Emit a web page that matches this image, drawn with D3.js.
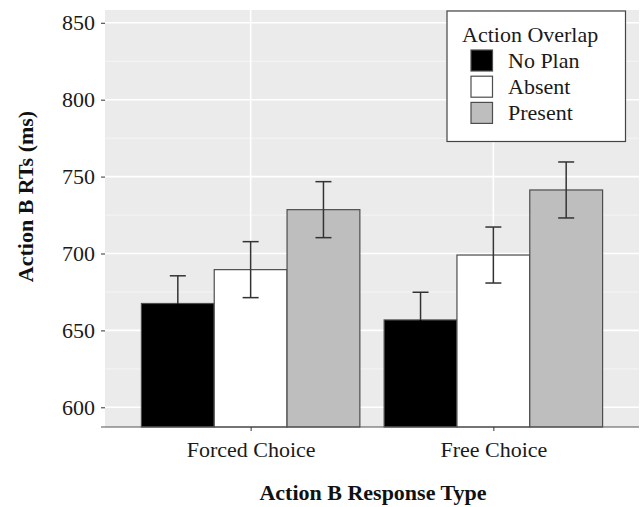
<!DOCTYPE html>
<html><head><meta charset="utf-8">
<script src="https://cdn.jsdelivr.net/npm/d3@7"></script>
<style>
html,body{margin:0;padding:0;background:#fff;}
text{font-family:"Liberation Serif","Times New Roman",serif;}
</style></head>
<body><svg id="chart" width="644" height="507"></svg>
<script>
const categories = ["Forced Choice", "Free Choice"];
const groups = ["No Plan", "Absent", "Present"];
const fills = ["#000000", "#ffffff", "#bebebe"];
const meansForced = [667.5, 689.5, 728.5];
const meansFree = [656.8, 699, 741.3];
const seForced = [18, 18.2, 18.2];
const seFree = [18, 18.2, 18.2];
const yTicks = [600, 650, 700, 750, 800, 850];
const yMinor = [625, 675, 725, 775, 825];

const data = [];
categories.forEach((c, ci) => {
  const m = ci === 0 ? meansForced : meansFree;
  const s = ci === 0 ? seForced : seFree;
  groups.forEach((g, gi) => data.push({cat: c, group: g, mean: m[gi], se: s[gi], fill: fills[gi]}));
});

const svg = d3.select("#chart");
const L = 105, R = 639, T = 10, B = 427;
const FONT = '"Liberation Serif","Times New Roman",serif';

const y = d3.scaleLinear().domain([587.2, 858.3]).range([B, T]);
// ggplot discrete: positions 1,2 with limits 0.4..2.6, dodge width 0.9
const xc = d3.scalePoint().domain(categories).range([L + (R-L)*0.6/2.2, R - (R-L)*0.6/2.2]);
const unit = (R - L) / 2.2;
const groupW = 0.9 * unit;
const xg = d3.scaleBand().domain(groups).range([-groupW/2, groupW/2]);

// panel
svg.append("rect").attr("x", L).attr("y", T).attr("width", R-L).attr("height", B-T).attr("fill", "#ebebeb");
svg.selectAll(".minor").data(yMinor).enter().append("line")
  .attr("x1", L).attr("x2", R).attr("y1", d => y(d)).attr("y2", d => y(d))
  .attr("stroke", "#f5f5f5").attr("stroke-width", 1);
svg.selectAll(".major").data(yTicks).enter().append("line")
  .attr("x1", L).attr("x2", R).attr("y1", d => y(d)).attr("y2", d => y(d))
  .attr("stroke", "#ffffff").attr("stroke-width", 1.6);
svg.selectAll(".vmajor").data(categories).enter().append("line")
  .attr("x1", d => xc(d)).attr("x2", d => xc(d)).attr("y1", T).attr("y2", B)
  .attr("stroke", "#ffffff").attr("stroke-width", 1.6);

// bars
svg.selectAll(".bar").data(data).enter().append("rect")
  .attr("x", d => xc(d.cat) + xg(d.group))
  .attr("width", xg.bandwidth())
  .attr("y", d => y(d.mean))
  .attr("height", d => B - y(d.mean))
  .attr("fill", d => d.fill)
  .attr("stroke", "#4d4d4d").attr("stroke-width", 1.2);

// error bars
const cap = 8;
const cx = d => xc(d.cat) + xg(d.group) + xg.bandwidth()/2;
const eb = svg.selectAll(".eb").data(data).enter().append("g")
  .attr("stroke-width", 1.5).attr("fill", "none");
eb.append("line").attr("x1", cx).attr("x2", cx)
  .attr("y1", d => y(d.mean)).attr("y2", d => y(d.mean + d.se)).attr("stroke", "#333");
eb.append("line").attr("x1", cx).attr("x2", cx)
  .attr("y1", d => y(d.mean - d.se)).attr("y2", d => y(d.mean))
  .attr("stroke", d => d.fill === "#000000" ? "#000" : "#333");
eb.append("line").attr("x1", d => cx(d) - cap).attr("x2", d => cx(d) + cap)
  .attr("y1", d => y(d.mean + d.se)).attr("y2", d => y(d.mean + d.se)).attr("stroke", "#333");
eb.append("line").attr("x1", d => cx(d) - cap).attr("x2", d => cx(d) + cap)
  .attr("y1", d => y(d.mean - d.se)).attr("y2", d => y(d.mean - d.se))
  .attr("stroke", d => d.fill === "#000000" ? "#000" : "#333");

// axes
const yAxis = svg.append("g").attr("transform", `translate(${L},0)`)
  .call(d3.axisLeft(y).tickValues(yTicks).tickSize(4).tickPadding(6));
yAxis.select(".domain").remove();
yAxis.selectAll(".tick line").attr("stroke", "#333");
yAxis.selectAll("text").attr("font-size", 22).attr("fill", "#1a1a1a").style("font-family", FONT);

svg.append("line").attr("x1", L-4).attr("x2", R).attr("y1", B).attr("y2", B)
  .attr("stroke", "#555").attr("stroke-width", 1.2);
const xAxis = svg.append("g").attr("transform", `translate(0,${B})`)
  .call(d3.axisBottom(xc).tickSize(4).tickPadding(10));
xAxis.select(".domain").remove();
xAxis.selectAll(".tick line").attr("stroke", "#333");
xAxis.selectAll("text").attr("font-size", 22).attr("fill", "#1a1a1a").style("font-family", FONT);

// titles
svg.append("text").attr("x", 373).attr("y", 500).attr("text-anchor", "middle")
  .attr("font-size", 22).attr("font-weight", "bold").attr("fill", "#111")
  .text("Action B Response Type");
svg.append("text").attr("transform", "translate(33,196.5) rotate(-90)").attr("text-anchor", "middle")
  .attr("font-size", 22).attr("font-weight", "bold").attr("fill", "#111")
  .text("Action B RTs (ms)");

// legend
const lg = svg.append("g");
lg.append("rect").attr("x", 447).attr("y", 11).attr("width", 178.5).attr("height", 130.5)
  .attr("fill", "#fff").attr("stroke", "#444").attr("stroke-width", 1.2);
lg.append("text").attr("x", 462).attr("y", 42).attr("font-size", 22).attr("fill", "#1a1a1a").text("Action Overlap");
groups.forEach((g, i) => {
  lg.append("rect").attr("x", 471).attr("y", 50 + i*26.2).attr("width", 21.5).attr("height", 21)
    .attr("fill", fills[i]).attr("stroke", "#4d4d4d").attr("stroke-width", 1.2);
  lg.append("text").attr("x", 508).attr("y", 67.5 + i*26.2).attr("font-size", 22).attr("fill", "#1a1a1a").text(g);
});
</script></body></html>
